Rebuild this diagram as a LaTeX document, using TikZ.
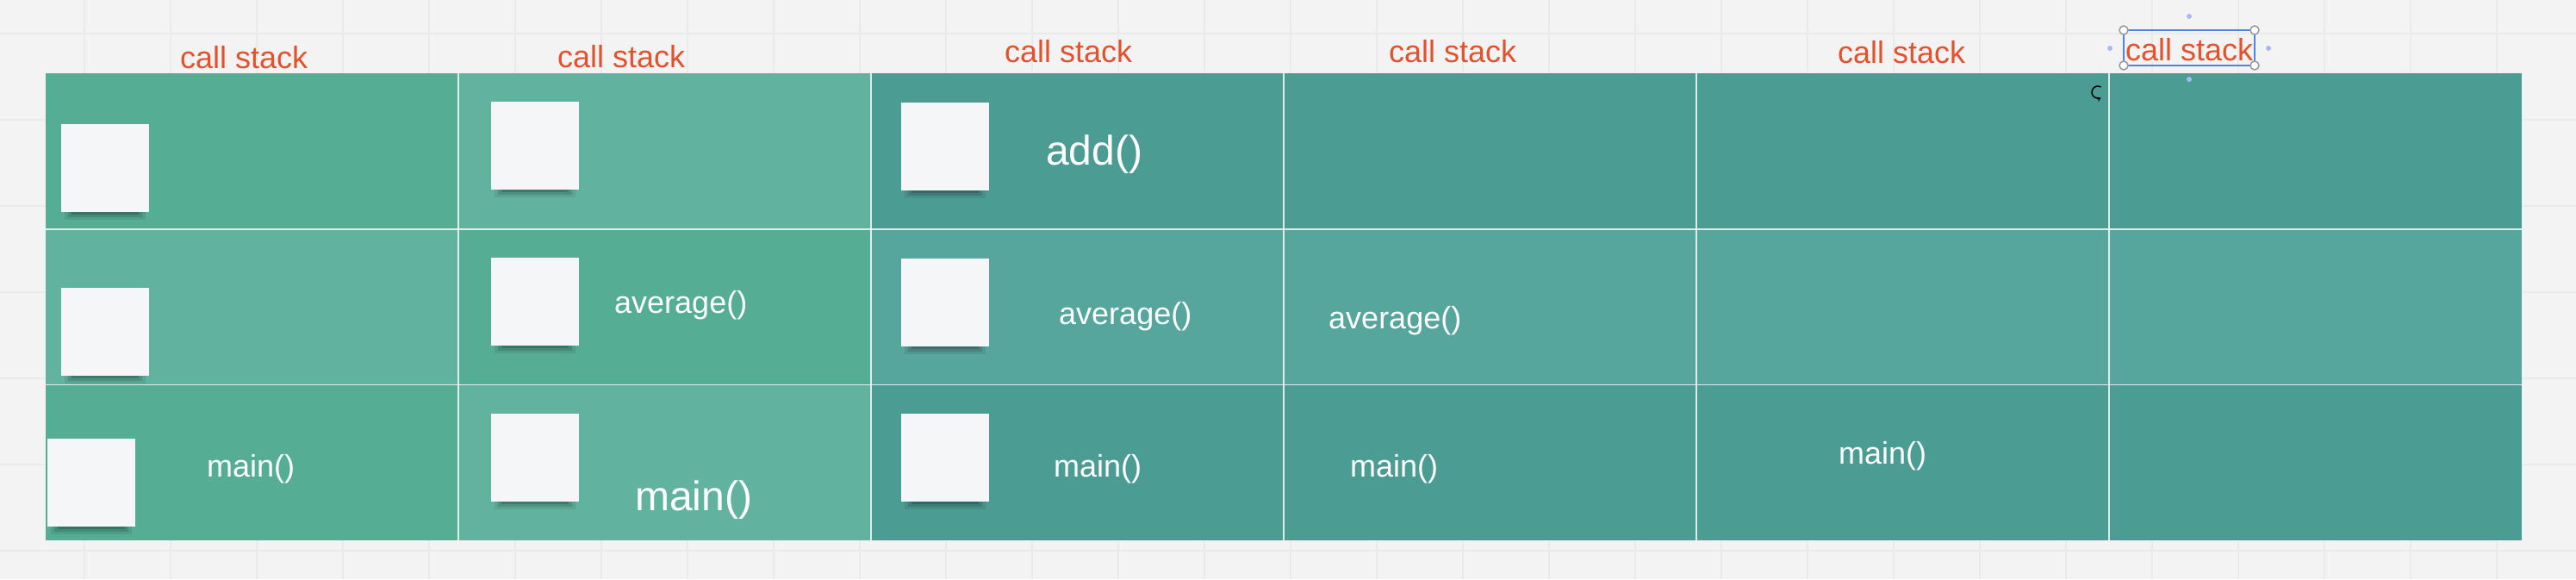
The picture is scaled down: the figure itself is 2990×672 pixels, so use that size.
\documentclass[tikz,border=0pt]{standalone}
\usepackage{fontspec}
\setmainfont{Liberation Sans}
\usepackage{tikz}
\usetikzlibrary{arrows.meta}

\definecolor{board}{RGB}{243,243,243}
\definecolor{boardline}{RGB}{234,234,234}
\definecolor{greenA}{RGB}{85,173,148}
\definecolor{greenB}{RGB}{97,179,160}
\definecolor{tealA}{RGB}{75,156,147}
\definecolor{tealB}{RGB}{86,166,157}
\definecolor{notepaper}{RGB}{244,246,248}
\definecolor{labelred}{RGB}{226,82,45}
\definecolor{selblue}{RGB}{80,130,235}
\definecolor{seldot}{RGB}{168,186,240}

\tikzset{
  note/.style={fill=notepaper, inner sep=0pt, minimum width=102pt, minimum height=102pt, anchor=north west},
  stacklabel/.style={text=labelred, inner sep=0pt, anchor=base west, font=\fontsize{36}{40}\selectfont},
  frame/.style={text=white, inner sep=0pt, anchor=base west, font=\fontsize{36}{40}\selectfont},
  bigframe/.style={frame, font=\fontsize{48}{52}\selectfont},
  handle/.style={circle, fill=white, draw=gray!80, line width=1.5pt, inner sep=0pt, minimum size=10pt}
}

\begin{document}
\begin{tikzpicture}[x=1pt, y=-1pt]
  \useasboundingbox (0,0) rectangle (2990,672);
  \fill[board] (0,0) rectangle (2990,672);
  \foreach \x in {-2,98,...,2998}{\draw[boardline, line width=1.5pt] (\x,0) -- (\x,672);}
  \foreach \y in {39,139,...,639}{\draw[boardline, line width=1.5pt] (0,\y) -- (2990,\y);}

  % cells of the table
  \foreach \r/\cols in {1/{greenA,greenB,tealA,tealA,tealA,tealA},
                        2/{greenB,greenA,tealB,tealB,tealB,tealB},
                        3/{greenA,greenB,tealA,tealA,tealA,tealA}}{
    \foreach \c [count=\i] in \cols{
      \fill[\c] ({53+479*(\i-1)},{85+180.67*(\r-1)}) rectangle ({53+479*\i},{85+180.67*\r});
    }
  }
  \foreach \y in {265.7,446.3}{\draw[white, opacity=.8, line width=1.6pt] (53,\y) -- (2927,\y);}
  \foreach \i in {1,...,5}{\draw[white, opacity=.8, line width=1.6pt] ({53+479*\i},85) -- ({53+479*\i},627);}

  % sticky notes
  \foreach \n/\x/\y in {a1/71/144, a2/71/334, a3/55/509,
                        b1/570/118, b2/570/299, b3/570/480,
                        c1/1046/119, c2/1046/300, c3/1046/480}{
    \fill[black, opacity=.08] (\x+4,\y+102) rectangle (\x+98,\y+111);
    \fill[black, opacity=.12] (\x+8,\y+102) rectangle (\x+94,\y+108);
    \fill[black, opacity=.16] (\x+12,\y+102) rectangle (\x+90,\y+105);
    \node[note] (note \n) at (\x,\y) {};
  }

  % labels
  \foreach \n/\x/\y in {1/209/79, 2/647/78, 3/1166/72, 4/1612/72, 5/2133/73, 6/2467/70}{
    \node[stacklabel] (stack \n) at (\x,\y) {call stack};
  }
  \node[frame] (main a) at (240,553) {main()};
  \node[frame] (average b) at (713,363) {average()};
  \node[bigframe] (main b) at (737,592) {main()};
  \node[bigframe] (add c) at (1214,191) {add()};
  \node[frame] (average c) at (1229,376) {average()};
  \node[frame] (main c) at (1223,553) {main()};
  \node[frame] (average d) at (1542,381) {average()};
  \node[frame] (main d) at (1567,553) {main()};
  \node[frame] (main e) at (2134,538) {main()};

  % selection on the last label
  \draw[selblue, line width=1.5pt] (2465,35) rectangle (2617,76);
  \foreach \x/\y in {2465/35, 2617/35, 2465/76, 2617/76}{\node[handle] at (\x,\y) {};}
  \foreach \x/\y in {2541/19, 2449/56, 2633/56, 2541/92}{\fill[seldot] (\x,\y) circle (3);}
  \draw[line width=1.5pt, -{Stealth[length=5pt, width=6pt]}] (2435,107) ++(300:7) arc[start angle=300, end angle=60, radius=7];
\end{tikzpicture}
\end{document}
